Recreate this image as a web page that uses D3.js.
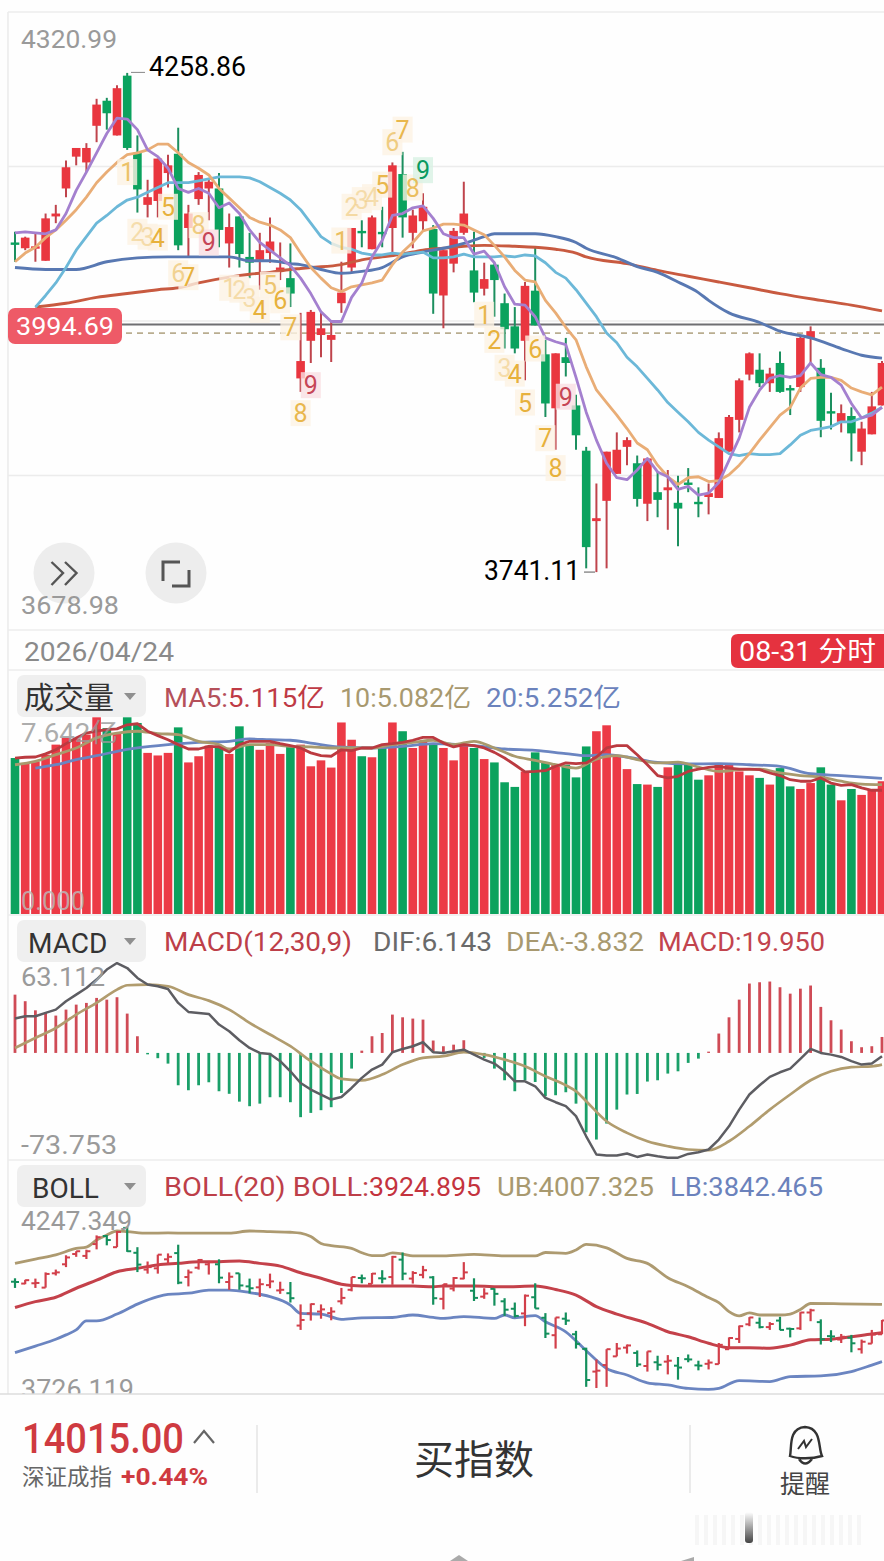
<!DOCTYPE html>
<html><head><meta charset="utf-8">
<script src="https://cdn.jsdelivr.net/npm/d3@7/dist/d3.min.js"></script>
<style>html,body{margin:0;padding:0;background:#fff;overflow:hidden}svg{display:block}text{font-family:Roboto,"Noto Sans CJK SC",sans-serif}</style>
</head><body><div id="c"></div>
<script>
// ---- candles ----
const openP=[4083,4077,4078,4064,4110,4139,4172,4166,4204,4230,4194,4256,4176,4122,4126,4155,4175,4098,4128,4139,4139,4082,4110,4068,4065,4072,4055,4046,3942,3981,3987,3982,4020,4057,4095,4076,4094,4098,4154,4093,4105,4097,4028,4061,4093,4054,4035,4060,4020,3996,3981,4033,3967,3911,3964,3914,3867,3794,3815,3843,3871,3854,3812,3824,3826,3813,3834,3814,3819,3818,3866,3899,3946,3951,3937,3958,3932,3933,3984,3953,3908,3897,3903,3866,3884,3914];
const closeP=[4082,4088,4079,4108,4113,4161,4181,4181,4226,4217,4243,4181,4138,4130,4170,4163,4080,4113,4153,4146,4096,4099,4071,4062,4075,4084,4057,4030,3960,4011,3994,3987,4031,4098,4094,4109,4093,4163,4109,4111,4120,4030,4075,4095,4113,4031,4045,4044,3993,3973,4038,3997,3916,3968,3958,3883,3767,3797,3866,3868,3878,3817,3859,3816,3829,3807,3833,3813,3823,3880,3902,3940,3968,3937,3947,3928,3931,3984,3991,3898,3907,3906,3885,3890,3913,3958];
const highP=[4094,4089,4093,4113,4122,4168,4181,4186,4232,4233,4246,4258.86,4194,4148,4170,4174,4202,4122,4156,4150,4155,4113,4110,4093,4093,4109,4083,4082,4010,4013,4010,4001,4063,4098,4106,4111,4120,4166,4177,4117,4134,4101,4075,4098,4146,4094,4062,4062,4030,4016,4042,4078,3982,3968,3984,3925,3871,3833,3866,3886,3881,3862,3859,3845,3847,3841,3849,3829,3833,3886,3904,3942,3969,3968,3953,3970,3935,3985,3996,3962,3927,3915,3912,3897,3928,3960];
const lowP=[4063,4075,4063,4064,4103,4130,4163,4156,4187,4200,4194,4179,4114,4109,4109,4140,4075,4068,4122,4106,4078,4057,4057,4046,4034,4062,4044,4016,3928,3958,3964,3959,4010,4052,4078,4076,4078,4073,4088,4077,4094,4009,3994,4052,4091,4021,4028,4006,3973,3968,3940,3997,3902,3868,3944,3868,3745,3741.11,3745,3843,3852,3809,3794,3798,3785,3768,3824,3798,3801,3818,3866,3886,3940,3933,3928,3927,3904,3928,3956,3881,3889,3886,3856,3852,3884,3914];
// ---- price moving averages ----
const ma5=[4093,4094,4093,4092,4096,4113,4137,4156,4176,4196,4212,4211,4200,4179,4172,4160,4139,4135,4139,4134,4119,4124,4113,4096,4083,4075,4067,4059,4046,4030,4011,4001,4001,4026,4041,4068,4085,4111,4113,4119,4121,4108,4092,4088,4088,4071,4074,4062,4037,4019,4018,4006,3984,3980,3977,3943,3907,3878,3854,3839,3837,3847,3859,3845,3840,3827,3830,3821,3823,3834,3857,3880,3912,3930,3942,3945,3943,3945,3958,3946,3943,3935,3916,3901,3904,3912];
const ma10=[4063,4072,4078,4088,4096,4106,4117,4130,4145,4156,4166,4174,4176,4179,4185,4185,4176,4166,4160,4153,4139,4129,4119,4109,4104,4101,4096,4088,4072,4057,4046,4036,4032,4037,4039,4041,4044,4060,4073,4083,4095,4098,4102,4102,4101,4096,4091,4080,4068,4054,4044,4042,4023,4010,3995,3982,3954,3930,3917,3904,3890,3875,3868,3852,3840,3832,3839,3840,3835,3836,3842,3852,3864,3878,3891,3904,3912,3932,3942,3943,3943,3940,3932,3928,3925,3933];
const ma20Start=2;
const ma20=[4016,4028,4041,4057,4075,4089,4103,4111,4120,4127,4130,4135,4140,4145,4145,4145,4147,4149,4151,4151,4151,4150,4146,4140,4134,4127,4117,4103,4089,4082,4078,4076,4072,4070,4070,4072,4071,4072,4073,4067,4067,4068,4071,4068,4068,4068,4069,4068,4070,4069,4062,4052,4046,4034,4020,4006,3989,3979,3964,3954,3942,3930,3917,3907,3897,3886,3878,3871,3864,3862,3864,3863,3863,3864,3873,3883,3888,3890,3892,3897,3897,3901,3906,3912];
const ma30Idx=[0,3,6,9,12,15,18,21,23,25,27,28,30,32,34,36,38,40,42,44,46,47,49,51,53,55,56,59,61,63,65,67,68,70,73,75,78,81,83,85];
const ma30=[4057,4055,4055,4063,4067,4068,4068,4068,4064,4064,4061,4060,4055,4051,4053,4057,4068,4073,4077,4082,4089,4092,4092,4092,4089,4083,4077,4067,4058,4052,4042,4031,4023,4010,4000,3991,3984,3973,3966,3963];
const ma60Idx=[2,5,8,11,14,16,18,21,23,25,27,28,29,32,34,36,38,40,42,44,46,49,51,53,55,56,60,63,66,69,72,75,79,82,85];
const ma60=[4016,4020,4026,4030,4034,4036,4041,4047,4050,4052,4055,4056,4057,4060,4065,4068,4071,4075,4077,4079,4080,4079,4078,4076,4072,4068,4061,4054,4048,4042,4036,4030,4023,4018,4012];
// ---- TD sequence labels ----
const tdDigits=[1,2,3,4,5,6,7,8,9];
const tdStart=[11,21,32,46];
const tdPrices=[[4156,4094,4089,4088,4120,4051,4047,4101,4083],[4036,4034,4025,4013,4039,4023,3995,3906,3935],[4085,4120,4127,4130,4143,4187,4200,4140,4158],[4008,3982,3953,3947,3917,3973,3880,3849,3923]];
const tdFade=[[.75,.35,.35,1,1,.5,1,.6,1],[.4,.35,.35,1,.7,1,.9,.9,1],[.8,.4,.35,.35,.9,.6,.9,.8,1],[.9,1,.35,1,1,1,1,1,1]];
const tdTone=['r','r','g','r'];
// ---- volume ----
const volume=[6.05,5.86,5.92,6.18,6.57,6.83,6.79,6.96,7.63,7.21,7.02,7.63,7.41,6.25,6.15,6.25,7.24,5.88,6.12,6.53,6.53,6.21,7.28,6.57,6.37,6.63,6.21,6.50,6.57,5.73,5.96,5.68,7.43,6.76,6.12,6.08,6.44,7.43,7.09,6.44,6.70,6.57,6.44,5.96,6.57,6.44,6.01,5.88,5.11,4.93,5.53,6.27,5.88,5.79,5.79,5.30,6.50,7.09,7.32,6.12,5.62,5.04,5.02,4.93,5.69,5.79,5.79,5.21,5.38,5.79,5.79,5.53,5.38,5.28,5.02,5.66,4.95,4.85,5.08,5.69,5.02,4.41,4.85,4.62,4.82,5.15];
const volMa5=[6.05,6.08,6.09,6.21,6.37,6.61,6.83,7.02,7.09,7.15,7.18,7.34,7.38,7.09,6.92,6.76,6.57,6.40,6.40,6.50,6.48,6.28,6.57,6.70,6.70,6.70,6.61,6.53,6.44,6.25,6.14,6.12,6.37,6.34,6.44,6.44,6.57,6.61,6.66,6.74,6.85,6.85,6.63,6.48,6.57,6.53,6.44,6.27,6.05,5.79,5.51,5.53,5.56,5.73,5.86,5.83,5.86,6.09,6.44,6.53,6.53,6.18,5.79,5.37,5.28,5.34,5.53,5.62,5.69,5.73,5.66,5.62,5.62,5.60,5.47,5.37,5.21,5.15,5.15,5.28,5.08,4.99,5.02,4.89,4.80,4.80];
const volMa10Idx=[0,2,4,6,8,10,12,14,16,18,20,21,23,25,27,29,31,33,35,37,39,41,43,45,47,49,51,53,55,57,59,61,63,65,67,69,71,73,75,77,79,81,83,85];
const volMa10=[5.79,5.92,6.18,6.44,6.83,7.02,7.09,7.00,6.96,6.70,6.57,6.40,6.57,6.57,6.50,6.48,6.44,6.44,6.44,6.57,6.66,6.74,6.57,6.70,6.44,6.12,5.96,5.79,5.66,6.01,6.14,5.99,5.86,5.89,5.70,5.53,5.60,5.62,5.47,5.37,5.31,5.15,5.04,5.02];
const volMa20Idx=[2,4,6,8,10,12,15,18,21,23,25,27,29,32,35,38,41,45,48,51,54,56,58,60,63,66,69,72,75,78,81,85];
const volMa20=[5.66,5.79,5.99,6.14,6.31,6.44,6.57,6.66,6.70,6.79,6.76,6.74,6.63,6.47,6.44,6.50,6.61,6.53,6.40,6.35,6.22,6.14,6.18,6.09,5.88,5.82,5.83,5.79,5.73,5.44,5.37,5.26];
// ---- MACD ----
const macdBar=[40.9,36.3,29.9,28.1,26.2,30.4,33.9,35.1,38.6,37.4,39.1,27.6,11.7,-1,-3.7,-7.5,-22.7,-26.2,-22.7,-20.6,-26.9,-28.7,-34.2,-37.4,-35.6,-31.1,-31.1,-34.6,-45.1,-42.1,-40.2,-38.1,-28.1,-11,1.6,11.7,14,26.9,25,24.1,23.4,8.7,4.7,5.8,8.9,-1.2,-3.5,-11,-19.2,-26.9,-19.2,-20.4,-30.4,-29.7,-27.6,-35.6,-55.7,-60.8,-49.6,-39.8,-29.2,-28.8,-20.1,-19.2,-14.5,-12.9,-7,-4,.9,13.6,25,37.4,48.7,49.6,50.1,46.1,41.6,45.1,47.3,32.3,22.9,16.4,8.2,4,4.7,11.2];
const dif=[24.1,25.7,25.7,28.1,30.4,36.3,40.9,45.6,51.5,58.5,63.1,59.6,52.6,48,46.8,44.9,35.1,28.8,28.1,27.4,19.9,15.2,8.9,3.5,0,-.7,-5.8,-12.9,-21.1,-25.7,-29.2,-32.7,-30.9,-24.6,-17.5,-11.7,-8.2,.5,2.8,4.7,7.5,.5,0,1.2,2.3,-1.2,-4.7,-7.5,-12.9,-19.9,-19.9,-23.4,-31.6,-34.6,-37.4,-44.4,-58.5,-71.3,-72,-72,-70.6,-73,-71.3,-72.5,-73.5,-73.5,-70.9,-69.7,-67.8,-60.8,-51.5,-39.8,-29.2,-22.7,-16.8,-13.6,-11,-4.2,2.8,0,-1.2,-2.8,-5.8,-8.2,-7.5,-2.3];
const deaIdx=[0,2,4,6,8,10,11,13,15,17,19,21,23,25,27,29,31,32,34,36,38,40,42,44,46,48,50,52,54,55,56,58,60,62,64,66,68,70,72,74,76,78,80,82,84,85];
const dea=[3.5,10.5,17.5,26.9,35.1,44.4,47.5,48,46.8,40.9,36.7,30.4,21.1,12.9,4.7,-5.8,-14.7,-18.2,-19.2,-15.2,-8.2,-3.5,-2.3,.5,-1.2,-4.7,-9.4,-16.4,-22.7,-26.9,-33.9,-48,-56.1,-62,-65.5,-67.8,-68.3,-62,-51.5,-39.8,-29.2,-19.2,-12.9,-10,-9.4,-8.2];
// ---- BOLL ----
const ubIdx=[0,2,4,6,7,8,9,10,11,13,15,17,19,21,23,25,27,28,29,30,31,33,34,35,36,37,38,39,41,42,45,48,51,52,54,55,56,58,60,62,64,66,68,69,70,71,72,73,75,76,77,78,81,85];
const ub=[4142,4156,4169,4190,4194,4217,4233,4246,4244,4239,4240,4239,4239,4239,4246,4244,4242,4239,4228,4206,4199,4190,4176,4167,4167,4176,4172,4166,4166,4166,4171,4166,4166,4177,4174,4185,4203,4192,4158,4142,4096,4067,4032,4016,3987,3973,3983,3976,3976,3979,3994,4013,4012,4010];
const mbIdx=[0,2,4,6,8,10,12,14,16,18,20,22,24,26,28,30,32,33,35,37,39,41,42,45,48,51,53,55,57,59,62,64,66,68,70,72,74,76,78,80,82,84,85];
const mb=[4000,4019,4033,4062,4088,4115,4126,4137,4142,4147,4147,4150,4142,4133,4112,4094,4075,4071,4069,4069,4069,4067,4069,4069,4067,4069,4058,4040,4003,3979,3949,3922,3906,3885,3871,3871,3869,3879,3896,3898,3906,3915,3919];
const lbIdx=[0,2,4,5,6,7,8,10,12,14,15,17,19,21,23,25,27,28,30,32,34,37,39,41,42,44,47,48,49,51,52,54,56,58,60,62,64,66,68,69,71,74,76,79,82,84,85];
const lb=[3855,3876,3898,3912,3928,3957,3957,3979,4011,4035,4042,4046,4056,4056,4048,4035,4008,3981,3979,3962,3967,3968,3976,3968,3965,3971,3965,3976,3967,3974,3954,3922,3861,3804,3783,3758,3751,3740,3737,3740,3765,3762,3778,3780,3794,3815,3826];
// ---- axis ranges and reference levels ----
const priceDomain=[3678.98,4320.99];
const volDomain=[0,7.642];
const macdDomain=[-73.753,63.112];
const bollDomain=[3726.119,4247.349];
const refSolid=3998, refDash=3989;
const candles=d3.range(86).map(i=>({i,o:openP[i],c:closeP[i],h:highP[i],l:lowP[i],up:closeP[i]>=openP[i]}));

const RED='#e9363f',GREEN='#0ba25e',WRED='#bf444c',WGREEN='#1c8f5f';
const svg=d3.select('#c').append('svg').attr('width',884).attr('height',1561);
svg.append('rect').attr('width',884).attr('height',1561).attr('fill','#fefefe');
const x=d3.scalePoint().domain(d3.range(86)).range([15,882]);
const yP=d3.scaleLinear().domain(priceDomain).range([632,13]);
const yV=d3.scaleLinear().domain(volDomain).range([914,717]);
const yM=d3.scaleLinear().domain(macdDomain).range([1158,963]);
const yB=d3.scaleLinear().domain(bollDomain).range([1392.7,1230.6]);

function T(g,t,xx,yy,size,fill,extra={}){const e=g.append('text').attr('x',xx).attr('y',yy).attr('font-size',size).attr('fill',fill).text(t);
 for(const k in extra)e.attr(k,extra[k]);return e;}
// text stretched between two x positions, as the reference font runs wider
function W(g,t,x0,x1,yy,size,fill){return T(g,t,x0,yy,size,fill,{textLength:x1-x0,lengthAdjust:'spacingAndGlyphs'});}
const line=(xs,vs,scale,curve=d3.curveLinear)=>d3.line().x((d,k)=>x(xs[k])).y(d=>scale(d)).curve(curve)(vs);
function L(g,xs,vs,scale,col,w,curve){g.append('path').attr('d',line(xs,vs,scale,curve)).attr('fill','none').attr('stroke',col).attr('stroke-width',w).attr('stroke-linejoin','round');}

// frame and grid
const frame=svg.append('g').attr('stroke','#ececec').attr('stroke-width',1.6);
d3.range(5).forEach(k=>{const yy=12+k*154.5;frame.append('line').attr('x1',8).attr('x2',884).attr('y1',yy).attr('y2',yy);});
[670,915,1160].forEach(yy=>frame.append('line').attr('x1',8).attr('x2',884).attr('y1',yy).attr('y2',yy));
frame.append('line').attr('x1',8).attr('x2',8).attr('y1',12).attr('y2',1394);

// ---- price pane ----
const gp=svg.append('g');
gp.append('line').attr('x1',122).attr('x2',884).attr('y1',yP(refSolid)).attr('y2',yP(refSolid)).attr('stroke','#6f6f72').attr('stroke-width',2);
gp.append('line').attr('x1',126).attr('x2',884).attr('y1',yP(refDash)).attr('y2',yP(refDash)).attr('stroke','#b9ad90').attr('stroke-width',1.6).attr('stroke-dasharray','6 5');
const gc=gp.append('g');
gc.selectAll('line').data(candles).join('line').attr('x1',d=>x(d.i)).attr('x2',d=>x(d.i)).attr('y1',d=>yP(d.h)).attr('y2',d=>yP(d.l)).attr('stroke',d=>d.up?WRED:WGREEN).attr('stroke-width',2);
gc.selectAll('rect').data(candles).join('rect').attr('x',d=>x(d.i)-4.3).attr('width',8.6).attr('y',d=>yP(Math.max(d.o,d.c))).attr('height',d=>Math.max(2.4,Math.abs(yP(d.o)-yP(d.c)))).attr('fill',d=>d.up?RED:GREEN);
L(gp,ma60Idx,ma60,yP,'#c85a40',2.9,d3.curveMonotoneX);
L(gp,ma30Idx,ma30,yP,'#5878b2',2.9,d3.curveMonotoneX);
L(gp,d3.range(ma20.length).map(k=>k+ma20Start),ma20,yP,'#6cb8d8',2.8);
L(gp,d3.range(86),ma10,yP,'#e9ad76',2.8);
L(gp,d3.range(86),ma5,yP,'#a480cf',2.8);
// TD labels
const gt=gp.append('g').attr('text-anchor','middle');
tdPrices.forEach((seq,s)=>seq.forEach((pv,k)=>{
 const xx=x(tdStart[s]+k),yy=yP(pv),nine=tdDigits[k]===9,tone=nine?tdTone[s]:'o';
 const bg=tone==='r'?'#f9dfe2':tone==='g'?'#d8f1e4':'#fdf3e4';
 gt.append('rect').attr('x',xx-10).attr('y',yy-13).attr('width',20).attr('height',26).attr('fill',bg).attr('opacity',.8);
}));
tdPrices.forEach((seq,s)=>seq.forEach((pv,k)=>{
 const xx=x(tdStart[s]+k),yy=yP(pv),nine=tdDigits[k]===9,tone=nine?tdTone[s]:'o';
 const fg=tone==='r'?'#c64657':tone==='g'?'#0a9a60':'#e7b13c';
 T(gt,tdDigits[k],xx,yy+9,25,fg,{opacity:tdFade[s][k]});
}));
W(gp,'4258.86',149,246,76,27,'#000');
W(gp,'3741.11',484,580,580,27,'#000');
gp.append('line').attr('x1',131).attr('x2',145).attr('y1',yP(4258.86)-.5).attr('y2',yP(4258.86)-.5).attr('stroke','#888').attr('stroke-width',1);
gp.append('line').attr('x1',584).attr('x2',595).attr('y1',yP(3741.11)).attr('y2',yP(3741.11)).attr('stroke','#888').attr('stroke-width',1.4);
W(gp,d3.format('.2f')(priceDomain[1]),21,117,48,26.5,'#9a9a9a');
// buttons
const gb=gp.append('g');
[[64,573],[176,573]].forEach(c=>gb.append('circle').attr('cx',c[0]).attr('cy',c[1]).attr('r',30.5).attr('fill','#ededed'));
gb.append('path').attr('d','M51.5 562 L63 573 L51.5 585 M65 562 L76.5 573 L65 585').attr('fill','none').attr('stroke','#555').attr('stroke-width',2.4);
gb.append('path').attr('d','M163 581 V562 H180 M172 586 H189 V570').attr('fill','none').attr('stroke','#555').attr('stroke-width',3);
W(gp,d3.format('.2f')(priceDomain[0]),21,119,614,26.5,'#9a9a9a');
// badge
gp.append('rect').attr('x',8).attr('y',308).attr('width',114).attr('height',36).attr('rx',7).attr('fill','#ee5a67');
W(gp,'3994.69',16,114,335,26.5,'#fff');
// date row
W(svg,'2026/04/24',24,174,661,25.5,'#8a8a8a');
svg.append('path').attr('d','M738 634 H884 V668 H738 Q731 668 731 661 V641 Q731 634 738 634 Z').attr('fill','#e5323f');
W(svg,'08-31 分时',739,876,661,27,'#fff');

function tab(y0,label,lx,size){
 svg.append('rect').attr('x',17).attr('y',y0).attr('width',129).attr('height',42).attr('rx',7).attr('fill','#efefef');
 T(svg,label,lx,y0+33,size,'#333');
 svg.append('path').attr('d',`M124 ${y0+18} h12 l-6 7 z`).attr('fill','#8f8f8f');
}
// ---- volume pane ----
const gv=svg.append('g');
gv.selectAll('rect').data(volume).join('rect').attr('x',(d,i)=>x(i)-4.3).attr('width',8.6).attr('y',d=>yV(d)).attr('height',d=>yV(0)-yV(d)).attr('fill',(d,i)=>candles[i].up?'#ec3a46':GREEN);
L(gv,volMa20Idx,volMa20,yV,'#6b85c1',2.8,d3.curveMonotoneX);
L(gv,volMa10Idx,volMa10,yV,'#a99a6d',2.8,d3.curveMonotoneX);
L(gv,d3.range(86),volMa5,yV,'#bb3a40',2.8);
tab(675,'成交量',24,30);
W(svg,'MA5:',164,228,707,26,'#b5505a');W(svg,'5.115亿',228,325,707,26,'#bf3a45');
W(svg,'10:5.082亿',340,471,707,26,'#a8996f');
W(svg,'20:5.252亿',486,621,707,26,'#6b82bc');
W(svg,'7.642亿',21,118,742,26,'#999').attr('opacity',.8);
W(svg,'0.000',21,85,910,26,'#bbb').attr('opacity',.8);
// ---- MACD pane ----
const gm=svg.append('g');
gm.selectAll('line').data(macdBar).join('line').attr('x1',(d,i)=>x(i)).attr('x2',(d,i)=>x(i)).attr('y1',yM(0)).attr('y2',d=>yM(d)).attr('stroke',d=>d>=0?'#cf4b56':'#1aa069').attr('stroke-width',2.8);
L(gm,deaIdx,dea,yM,'#b19c6e',2.7,d3.curveMonotoneX);
L(gm,d3.range(86),dif,yM,'#5d5d62',2.5);
tab(920,'MACD',28,28);
W(svg,'MACD(12,30,9)',164,352,951,26,'#bd3f49');
W(svg,'DIF:6.143',373,492,951,26,'#6a6a6a');
W(svg,'DEA:-3.832',506,644,951,26,'#a8996f');
W(svg,'MACD:19.950',658,825,951,26,'#c2444e');
W(svg,'63.112',21,105,986,26,'#9a9a9a');
W(svg,'-73.753',21,117,1154,26,'#9a9a9a');
// ---- BOLL pane ----
const gbo=svg.append('g');
L(gbo,ubIdx,ub,yB,'#ad9a70',2.8,d3.curveMonotoneX);
L(gbo,mbIdx,mb,yB,'#c4414a',3,d3.curveMonotoneX);
L(gbo,lbIdx,lb,yB,'#6b85c1',2.8,d3.curveMonotoneX);
const col=d=>d.up?'#d23f4a':'#138f5c';
gbo.selectAll('.v').data(candles).join('line').attr('x1',d=>x(d.i)).attr('x2',d=>x(d.i)).attr('y1',d=>yB(d.h)).attr('y2',d=>yB(d.l)).attr('stroke',col).attr('stroke-width',2.2);
gbo.selectAll('.o').data(candles).join('line').attr('x1',d=>x(d.i)-4).attr('x2',d=>x(d.i)).attr('y1',d=>yB(d.o)).attr('y2',d=>yB(d.o)).attr('stroke',col).attr('stroke-width',2);
gbo.selectAll('.c').data(candles).join('line').attr('x1',d=>x(d.i)).attr('x2',d=>x(d.i)+4).attr('y1',d=>yB(d.c)).attr('y2',d=>yB(d.c)).attr('stroke',col).attr('stroke-width',2);
tab(1165,'BOLL',32,28);
W(svg,'BOLL(20) BOLL:',164,369,1196,26,'#bd3f49');
W(svg,'3924.895',369,481,1196,26,'#c4333e');
W(svg,'UB:4007.325',497,654,1196,26,'#a8996f');
W(svg,'LB:3842.465',670,823,1196,26,'#6b82bc');
W(svg,'4247.349',21,132,1230,26,'#9a9a9a');
W(svg,'3726.119',21,134,1398,26,'#9a9a9a');
// ---- bottom bar ----
const gf=svg.append('g');
gf.append('rect').attr('x',0).attr('y',1394).attr('width',884).attr('height',167).attr('fill','#fefefe');
gf.append('line').attr('x1',0).attr('x2',884).attr('y1',1394).attr('y2',1394).attr('stroke','#dcdcdc').attr('stroke-width',1.6);
W(gf,'14015.00',22,184,1453,42,'#cf3a40').attr('font-weight',500);
gf.append('path').attr('d','M194 1443 L204 1431 L214 1443').attr('fill','none').attr('stroke','#666').attr('stroke-width',2.2);
T(gf,'深证成指',22,1485,22.5,'#666');
W(gf,'+0.44%',121,208,1485,24,'#cf3a40').attr('font-weight',700);
[257,690].forEach(v=>gf.append('line').attr('x1',v).attr('x2',v).attr('y1',1425).attr('y2',1493).attr('stroke','#e6e6e6').attr('stroke-width',1.6));
T(gf,'买指数',414,1474,40,'#333');
T(gf,'提醒',780,1493,25,'#444');
gf.append('path').attr('d','M790 1456 C792 1448 788 1428 805 1427 C822 1428 818 1448 822 1456 C812 1459 798 1459 790 1456 Z M799 1459 Q805 1468 812 1459').attr('fill','none').attr('stroke','#333').attr('stroke-width',2.4);
gf.append('path').attr('d','M798 1449 L804 1441 L806 1447 L812 1439').attr('fill','none').attr('stroke','#333').attr('stroke-width',2);
const grad=svg.append('defs').append('linearGradient').attr('id','hb').attr('x1',0).attr('x2',0).attr('y1',0).attr('y2',1);
grad.append('stop').attr('offset',0).attr('stop-color','#fff');grad.append('stop').attr('offset',1).attr('stop-color','#444');
d3.range(695,866,9).forEach(v=>gf.append('rect').attr('x',v).attr('y',1515).attr('width',4).attr('height',30).attr('fill','#f6f6f6'));
gf.append('rect').attr('x',745).attr('y',1512).attr('width',8).attr('height',31).attr('rx',3).attr('fill','url(#hb)');
gf.append('path').attr('d','M450 1561 L459 1555 L468 1561 Z').attr('fill','#aaa');
gf.append('path').attr('d','M681 1561 L694 1557 V1561 Z').attr('fill','#aaa');
</script></body></html>
